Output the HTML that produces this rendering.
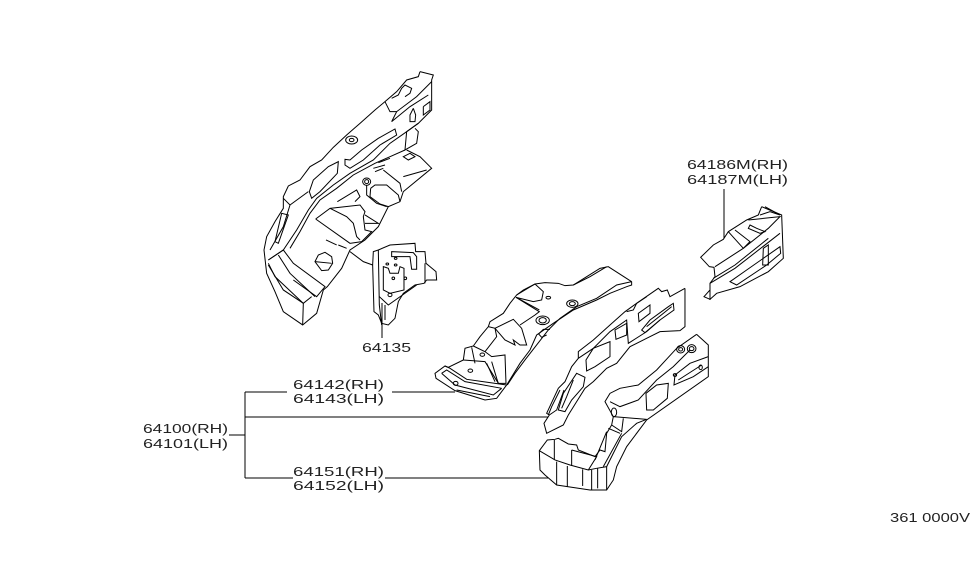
<!DOCTYPE html>
<html><head><meta charset="utf-8"><style>
html,body{margin:0;padding:0;background:#fff;width:975px;height:566px;overflow:hidden}
svg{display:block}
polyline,polygon,ellipse,path,line{fill:none;stroke:#000;stroke-width:1;vector-effect:non-scaling-stroke}
text{font-family:"Liberation Sans",sans-serif;font-size:13px;fill:#222}
</style></head><body>
<svg width="975" height="566" viewBox="0 0 975 566">
<g transform="translate(250,60) scale(.3333)">
<polyline points="510,35 550,45 545,60 545,150 505,190 470,215 465,270 500,250 505,215 495,205"/>
<polyline points="510,35 505,50 470,60 440,95 405,125 375,150 330,190 290,225 250,262 215,300 180,320 150,360 115,378 100,410 100,445 75,485 50,530 42,570 50,640 75,695 100,755 158,795 200,760 220,690 232,680 275,625 300,570 345,540 385,500 415,440 450,425 460,395 545,325 510,290 470,270"/>
<polyline points="425,115 445,105 455,85 465,75 485,85 480,100 465,110"/>
<polyline points="405,125 420,155 440,155"/>
<polyline points="545,65 500,110 440,155 425,185 480,140 535,105"/>
<polyline points="490,145 497,165 495,185 480,185 480,165 490,145"/>
<polyline points="520,140 540,125 540,150 520,165 520,140"/>
<ellipse cx="305" cy="240" rx="18" ry="12"/><ellipse cx="305" cy="240" rx="7" ry="5"/>
<polygon points="435,207 440,225 390,255 340,300 300,325 285,315 285,298 300,300 335,270 385,235"/>
<polyline points="505,190 470,215 420,250 370,300 300,340 250,375 200,415 175,450 140,510 100,570 55,600"/>
<polyline points="465,270 420,290 375,310 310,345 260,385 210,420 180,460 150,515 120,565"/>
<polygon points="265,305 262,340 210,395 185,415 178,395 190,360 235,320"/>
<polyline points="100,415 120,435 175,395"/>
<polygon points="95,460 115,465 85,550 75,545"/>
<polyline points="120,435 100,500 60,570"/>
<polyline points="55,600 100,570 130,610 225,680 200,710 130,660"/>
<polyline points="55,610 75,650 160,730 185,710"/>
<line x1="160" y1="730" x2="158" y2="795"/>
<polyline points="160,730 100,690 55,615"/>
<polyline points="85,585 120,640 195,710"/>
<polyline points="197,477 240,445 330,435 345,455 340,470 345,510 365,515 335,545 300,550 197,477"/>
<polyline points="240,445 290,470 310,490 320,530 330,540"/>
<polyline points="345,465 385,490 345,490"/>
<polygon points="195,605 205,585 225,577 245,590 248,610 235,630 215,632"/>
<polyline points="195,605 245,610"/>
<polyline points="228,540 260,555"/><polyline points="265,555 290,565"/><polyline points="300,575 340,605 368,615"/>
<ellipse cx="350" cy="365" rx="12" ry="11"/><ellipse cx="350" cy="365" rx="6" ry="6"/>
<polyline points="262,425 320,390 330,410 315,425"/>
<polyline points="350,375 350,405 380,430 410,440"/>
<polyline points="362,385 375,375 410,375 445,405 450,425"/>
<polyline points="362,385 360,410 390,432 415,440"/>
<polyline points="400,330 450,370 455,395"/>
<polyline points="460,350 530,330"/>
<polygon points="460,290 480,280 495,290 475,300"/>
<polyline points="370,325 405,315"/><polyline points="375,335 400,325"/><polyline points="385,308 420,295"/>
<polyline points="368,615 370,575 385,570 420,555 495,550 497,575 525,575 528,610 540,620 558,635 560,660 530,660 522,670 495,675 460,700 445,725 435,775 415,795 395,790 385,765 372,755 368,615"/>
<polyline points="385,570 388,735 395,795"/>
<polyline points="405,735 405,780"/>
<polyline points="388,710 415,735 500,675"/>
<polygon points="425,575 490,578 500,590 500,628 485,628 480,590 425,590"/>
<polygon points="400,620 415,625 420,640 445,640 450,620 462,625 462,690 420,700 400,690"/>
<line x1="525" y1="610" x2="525" y2="670"/>
<ellipse cx="412" cy="612" rx="4" ry="3"/><ellipse cx="437" cy="595" rx="4" ry="3"/><ellipse cx="437" cy="615" rx="4" ry="3"/><ellipse cx="430" cy="655" rx="4" ry="4"/><ellipse cx="466" cy="655" rx="4" ry="4"/><ellipse cx="420" cy="705" rx="6" ry="5"/>
</g>
<g transform="translate(430,260) scale(.3333)">
<polyline points="605,65 535,20 510,25 470,50 430,75 405,77 385,70 345,68 315,72 280,90 260,105 240,130 220,160 180,185 175,200 150,230 130,258 105,265 100,300 55,322 45,318 15,340 18,355 75,392 165,420 200,415 230,375 270,310 300,270 320,225 370,190 430,150 500,120 540,100 590,80 605,75 605,65"/>
<polyline points="605,65 560,75 500,115 440,140 390,175 355,210 320,255 285,300 255,340 232,375"/>
<polyline points="530,20 480,50 430,75"/>
<polyline points="260,105 315,72 340,95 335,120 310,125 258,112 328,155 315,165 270,195"/>
<polyline points="258,112 328,150"/>
<ellipse cx="355" cy="113" rx="7" ry="4"/>
<ellipse cx="427" cy="131" rx="17" ry="11"/><ellipse cx="427" cy="131" rx="9" ry="6"/>
<ellipse cx="338" cy="181" rx="20" ry="13"/><ellipse cx="338" cy="181" rx="11" ry="8"/>
<polyline points="360,208 340,208 326,222 335,232 350,225"/>
<polyline points="195,205 250,178 275,205 290,255 270,255 250,240 255,255 225,240 195,205"/>
<polyline points="175,200 195,205 200,230 165,275"/>
<polyline points="130,258 165,275 185,290 225,285 228,370 205,370 165,305 100,300"/>
<polyline points="125,262 135,310"/>
<polyline points="185,305 200,355 205,370"/><polyline points="170,310 195,365"/>
<ellipse cx="157" cy="284" rx="7" ry="5"/><ellipse cx="121" cy="332" rx="7" ry="5"/><ellipse cx="77" cy="370" rx="7" ry="6"/>
<polyline points="45,318 60,325 110,358 230,375"/>
<polyline points="35,340 50,330 105,365 215,385"/>
<polyline points="35,340 75,375 190,405 215,385"/>
<polyline points="80,390 180,410"/>
<polyline points="765,85 765,200 750,212 690,215 650,235 600,260 560,310 530,325 490,365 465,385 440,425 415,465 400,495 350,520 342,490 358,465 350,460 385,385 405,365 425,320 445,295 445,275 490,240 540,195 585,155 620,130 685,85 695,95 712,90 720,110 765,85"/>
<polyline points="590,155 610,150 620,130 650,110"/>
<polyline points="445,295 490,265 540,215 590,180 595,250 650,215 690,180"/>
<polygon points="540,245 540,290 495,320 470,333 468,300 490,265"/>
<polygon points="660,135 660,160 627,185 625,160"/>
<polygon points="590,190 590,225 558,238 555,210"/>
<polygon points="730,130 732,150 690,180 645,218 635,210 660,180 715,140"/>
<polyline points="650,200 700,160 725,140"/>
<polygon points="440,340 465,352 460,380 425,420 405,455 385,450 400,400"/>
<polyline points="430,360 410,410 395,445"/>
<polyline points="390,390 365,440 355,465"/><polyline points="402,390 380,450 358,465"/>
<polyline points="800,223 835,255 835,350 650,480 590,560 560,620 550,660 530,690 480,690 380,675 345,645 330,630 328,572 352,540 375,538 385,535 415,552 440,555 445,570 495,590 510,570 525,575 530,520 545,495 550,470 525,425 540,400 570,385 625,375 680,330 740,265 800,223"/>
<polyline points="328,572 375,600 420,615 475,630 500,625 530,620 545,590 575,530 620,490 650,478"/>
<polyline points="380,605 380,675"/><polyline points="412,618 412,680"/><polyline points="458,628 458,678"/><polyline points="485,630 485,690"/><polyline points="503,625 503,685"/><polyline points="530,620 530,690"/>
<line x1="373" y1="540" x2="373" y2="600"/><line x1="425" y1="570" x2="425" y2="618"/>
<polyline points="425,570 500,590 475,630"/>
<polyline points="550,470 650,478"/>
<polyline points="580,475 575,515 545,495"/>
<polyline points="535,505 570,520"/><polyline points="530,515 495,600"/><polyline points="575,520 520,620"/>
<ellipse cx="752" cy="268" rx="12" ry="11"/><ellipse cx="752" cy="268" rx="6" ry="5"/>
<ellipse cx="785" cy="266" rx="13" ry="12"/><ellipse cx="785" cy="266" rx="7" ry="6"/>
<polyline points="835,290 780,310 735,345 732,375 790,350 835,320"/>
<polyline points="745,360 815,315"/>
<ellipse cx="812" cy="322" rx="5" ry="7"/><ellipse cx="735" cy="345" rx="5" ry="4"/>
<polygon points="648,400 680,375 715,370 712,415 670,450 650,450"/>
<polyline points="540,425 570,440 625,420 680,360 730,320 780,270"/>
<ellipse cx="552" cy="457" rx="8" ry="13"/>
</g>
<g transform="translate(680,150) scale(.3333)">
<polyline points="245,170 305,195 310,325 265,365 180,410 110,430 90,448 72,440 90,420 90,400 105,380 102,352 88,350 62,322 100,285 130,268 145,245 200,210 235,195 245,170"/>
<polyline points="145,245 190,295 210,275 165,240"/>
<polyline points="205,210 300,200 265,235 190,295 105,350"/>
<polyline points="90,400 165,355 300,250"/>
<polyline points="100,385 165,345 265,265"/>
<polygon points="210,225 230,235 255,245 240,250 205,235"/>
<polygon points="150,395 200,360 300,290 302,310 260,345 170,405"/>
<polygon points="250,295 265,285 265,345 248,345"/>
<line x1="90" y1="420" x2="90" y2="450"/>
<polyline points="255,170 300,195 270,185 240,195"/>
</g>
<path d="M245 392V478M245 392H287M392 392H455M245 417H548M245 478H293M385 478H548M229 435H245M724 189V238M382 303V338" shape-rendering="crispEdges"/>
<text x="687" y="169" textLength="101" lengthAdjust="spacingAndGlyphs">64186M(RH)</text>
<text x="687" y="184" textLength="101" lengthAdjust="spacingAndGlyphs">64187M(LH)</text>
<text x="362" y="352" textLength="49" lengthAdjust="spacingAndGlyphs">64135</text>
<text x="293" y="389" textLength="91" lengthAdjust="spacingAndGlyphs">64142(RH)</text>
<text x="293" y="403" textLength="91" lengthAdjust="spacingAndGlyphs">64143(LH)</text>
<text x="143" y="433" textLength="85" lengthAdjust="spacingAndGlyphs">64100(RH)</text>
<text x="143" y="448" textLength="85" lengthAdjust="spacingAndGlyphs">64101(LH)</text>
<text x="293" y="476" textLength="91" lengthAdjust="spacingAndGlyphs">64151(RH)</text>
<text x="293" y="490" textLength="91" lengthAdjust="spacingAndGlyphs">64152(LH)</text>
<text x="890" y="522" textLength="80" lengthAdjust="spacingAndGlyphs">361 0000V</text>
</svg>
</body></html>
